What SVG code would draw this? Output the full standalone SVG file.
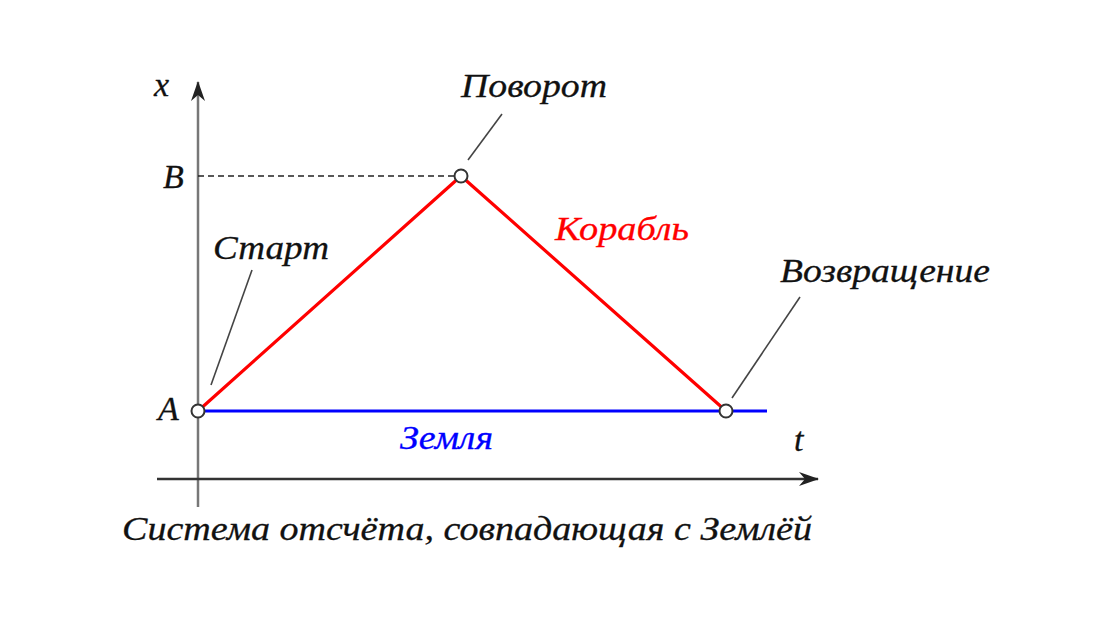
<svg xmlns="http://www.w3.org/2000/svg" width="1116" height="620" viewBox="0 0 1116 620">
<defs>
<style>
.lbl{font-family:"Liberation Serif","Times New Roman",serif;font-style:italic;font-size:34px;fill:#111;stroke:#111;stroke-width:0.3}
.axis{stroke-width:2.5;fill:none}
.lead{stroke:#444;stroke-width:1.6;fill:none}
.pt{fill:#fff;stroke:#333;stroke-width:2}
</style>
<marker id="ah" viewBox="0 0 20 14" refX="19" refY="7" markerWidth="20" markerHeight="14" markerUnits="userSpaceOnUse" orient="auto">
<path d="M0,0 L20,7 L0,14 L6,7 Z" fill="#222"/>
</marker>
</defs>
<rect width="1116" height="620" fill="#fff"/>
<g id="axes">
<line class="axis" x1="198" y1="507" x2="198" y2="82" marker-end="url(#ah)" stroke="#777"/>
<line class="axis" x1="157" y1="479" x2="818" y2="479" marker-end="url(#ah)" stroke="#333"/>
</g>
<g id="connectors">
<line x1="198" y1="176" x2="455" y2="176" stroke="#222" stroke-width="1.7" stroke-dasharray="6 4"/>
<line x1="198" y1="411" x2="767" y2="411" stroke="#0000ff" stroke-width="3.2"/>
<polyline points="198,411 461,176 726,411" fill="none" stroke="#ff0000" stroke-width="3.2"/>
<line class="lead" x1="211" y1="385" x2="252" y2="270"/>
<line class="lead" x1="468" y1="160" x2="502" y2="114"/>
<line class="lead" x1="732" y1="398" x2="800" y2="297"/>
</g>
<g id="pointA"><circle class="pt" cx="198" cy="411" r="6.5"/></g>
<g id="pointTurn"><circle class="pt" cx="461" cy="176" r="6.5"/></g>
<g id="pointReturn"><circle class="pt" cx="726" cy="411" r="6.5"/></g>
<g id="labels">
<text class="lbl" x="154" y="96">x</text>
<text class="lbl" x="163" y="188">B</text>
<text class="lbl" x="158" y="420">A</text>
<text class="lbl" x="461" y="97" textLength="146" lengthAdjust="spacingAndGlyphs">Поворот</text>
<text class="lbl" x="213" y="259" textLength="116" lengthAdjust="spacingAndGlyphs">Старт</text>
<text class="lbl" x="555" y="240" textLength="134" lengthAdjust="spacingAndGlyphs" style="fill:#ff0000;stroke:#ff0000">Корабль</text>
<text class="lbl" x="780" y="282" textLength="210" lengthAdjust="spacingAndGlyphs">Возвращение</text>
<text class="lbl" x="400" y="449" textLength="93" lengthAdjust="spacingAndGlyphs" style="fill:#0000ff;stroke:#0000ff">Земля</text>
<text class="lbl" x="794" y="451">t</text>
<text class="lbl" x="122" y="540" textLength="690" lengthAdjust="spacingAndGlyphs">Система отсчёта, совпадающая с Землёй</text>
</g>
</svg>
